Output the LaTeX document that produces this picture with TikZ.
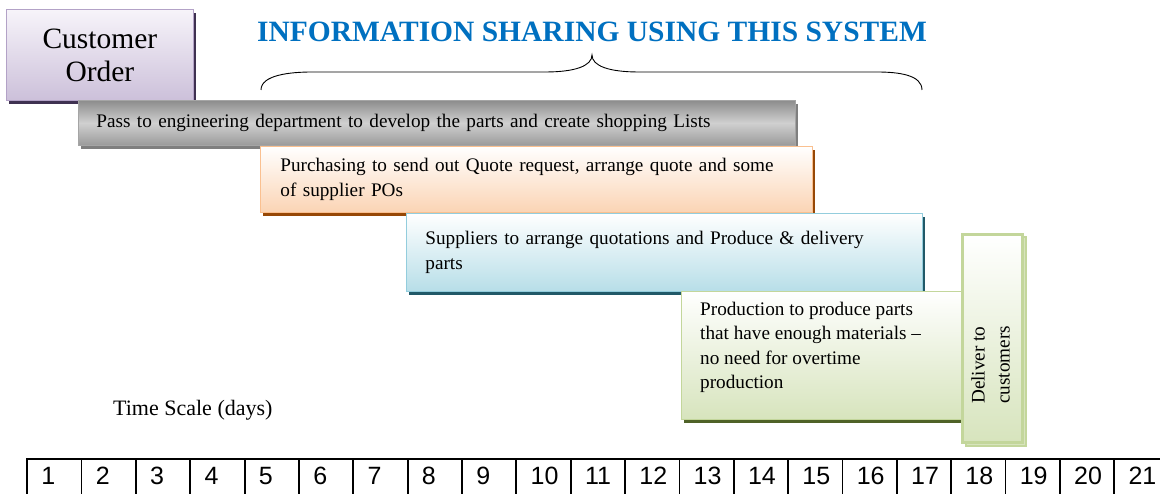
\documentclass[tikz,border=0pt]{standalone}
\usepackage{fontspec}
\setmainfont{Liberation Serif}
\newfontfamily\numfont{Liberation Sans}
\usetikzlibrary{shadows}
\definecolor{ctitle}{HTML}{0070C0}
\definecolor{cpurpleT}{HTML}{F7F4FA}
\definecolor{cpurpleF}{HTML}{CCC0DA}
\definecolor{cpurpleB}{HTML}{B3A2C7}
\definecolor{cpurpleS}{HTML}{3F3151}
\definecolor{cgreyT}{HTML}{8C8C8C}
\definecolor{cgreyM}{HTML}{D0D0D0}
\definecolor{cgreyBt}{HTML}{9A9A9A}
\definecolor{cgreyB}{HTML}{A5A5A5}
\definecolor{cgreyS}{HTML}{7F7F7F}
\definecolor{corangeF}{HTML}{FBD4B4}
\definecolor{corangeB}{HTML}{FAC090}
\definecolor{corangeS}{HTML}{974806}
\definecolor{cblueF}{HTML}{B7DEE8}
\definecolor{cblueB}{HTML}{93CDDD}
\definecolor{cblueS}{HTML}{215968}
\definecolor{cgreenF}{HTML}{D7E4BD}
\definecolor{cgreenB}{HTML}{C3D69B}
\definecolor{cgreenS}{HTML}{4F6228}
\begin{document}
\begin{tikzpicture}[x=1pt,y=-1pt,
  box/.style={anchor=north west, inner ysep=0pt, line width=0.8pt},
  shad/.style={general shadow={fill=#1, shadow xshift=3pt, shadow yshift=-4pt}},
  txt/.style={font=\rmfamily\fontsize{19.2}{24.3}\selectfont, align=left},
  cell/.style={draw=black, line width=1.8pt, anchor=north west, minimum height=40pt, minimum width=54.35pt, inner sep=0pt},
  num/.style={font=\numfont\fontsize{25}{25}\selectfont, anchor=base west, inner sep=0pt}]
\useasboundingbox (0,0) rectangle (1160,494);

% Customer order
\node[box, draw=cpurpleB, top color=cpurpleT, bottom color=cpurpleF, shad=cpurpleS,
      minimum width=187pt, minimum height=91pt, align=center,
      font=\rmfamily\fontsize{29.5}{33}\selectfont] (cust) at (6,9) {Customer\\Order};

% Title
\node[font=\rmfamily\bfseries\fontsize{29.5}{30}\selectfont, text=ctitle] (title) at (592,32)
  {INFORMATION SHARING USING THIS SYSTEM};

% Brace
\draw[line width=0.9pt] (261,90) .. controls (261,75) and (290,72) .. (312,72) -- (545,72)
  .. controls (575,72) and (592,66) .. (592,55)
  .. controls (592,66) and (609,72) .. (639,72) -- (877,72)
  .. controls (899,72) and (922,75) .. (922,90);

% Engineering bar
\node[box, txt, draw=cgreyB, top color=cgreyT, bottom color=cgreyBt, middle color=cgreyM,
      shad=cgreyS, inner xsep=18pt, text width=681pt, minimum height=45pt] (eng) at (78,100)
  {Pass to engineering department to develop the parts and create shopping Lists};

% Purchasing
\node[box, txt, draw=corangeB, top color=white, bottom color=corangeF, shad=corangeS,
      inner xsep=20pt, text width=512pt, minimum height=66pt] (purch) at (260,146)
  {Purchasing to send out Quote request, arrange quote and some\\of supplier POs};

% Suppliers
\node[box, txt, draw=cblueB, top color=white, bottom color=cblueF, shad=cblueS,
      inner xsep=19pt, text width=478pt, minimum height=78pt] (supp) at (406,213)
  {Suppliers to arrange quotations and Produce \& delivery\\parts};

% Production
\node[box, draw=cgreenB, top color=white, bottom color=cgreenF, shad=cgreenS,
      minimum width=281pt, minimum height=128pt] (prod) at (681,291) {};
\node[txt, anchor=north west, inner sep=0pt] (prodtxt) at (700,302)
  {Production to produce parts\\that have enough materials --\\no need for overtime\\production};

% Deliver
\node[box, draw=cgreenB, line width=3pt, top color=white, bottom color=cgreenF,
      general shadow={fill=cgreenF, draw=cgreenB, line width=2pt, shadow xshift=3pt, shadow yshift=-3pt},
      minimum width=60pt, minimum height=208pt] (deliv) at (961,233) {};
\node[txt, rotate=90, anchor=west, inner sep=0pt, font=\rmfamily\fontsize{19.2}{25}\selectfont]
  (delivtxt) at (990.5,404) {Deliver to\\customers};

% Time scale
\node[anchor=base west, inner sep=0pt, font=\rmfamily\fontsize{22}{24}\selectfont] (ts) at (113,415) {Time Scale (days)};

% Number row
\foreach \i in {1,...,21} {
  \node[cell] (c\i) at ({26.3+(\i-1)*54.35},458) {};
  \node[num] (n\i) at ({26.3+(\i-1)*54.35+15},484) {\i};
}
\end{tikzpicture}
\end{document}
